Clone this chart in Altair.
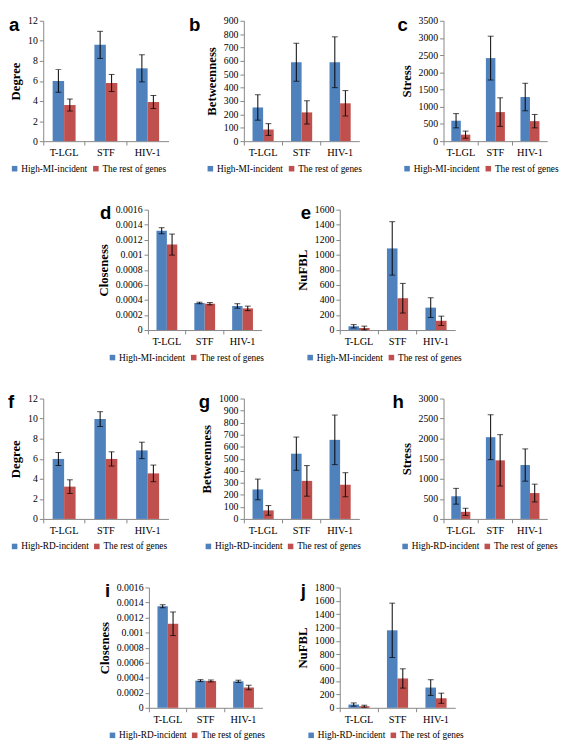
import altair as alt
import pandas as pd

CATS = ["T-LGL", "STF", "HIV-1"]
REST = "The rest of genes"
MI = "High-MI-incident"
RD = "High-RD-incident"
BLUE = "#4F81BD"
RED = "#C0504D"
GRAY = "#868686"

# ---- values (mean, error half-width) ----
a_hi = [6.0, 9.6, 7.26];            a_hi_err = [1.13, 1.35, 1.35]
a_rest = [3.6, 5.8, 3.9];           a_rest_err = [0.6, 0.85, 0.65]

b_hi = [252, 590, 590];             b_hi_err = [95, 142, 190]
b_rest = [87, 215, 283];            b_rest_err = [44, 87, 95]

c_hi = [594, 2415, 1283];           c_hi_err = [207, 637, 400]
c_rest = [189, 845, 582];           c_rest_err = [104, 415, 195]

d_hi = [0.00132, 0.00036, 0.00032];     d_hi_err = [0.00004, 0.00001, 0.00003]
d_rest = [0.001136, 0.00035, 0.000288]; d_rest_err = [0.00014, 0.000015, 0.00003]

e_hi = [50, 1085, 298];             e_hi_err = [22, 355, 131]
e_rest = [27, 423, 123];            e_rest_err = [25, 197, 62]

f_hi = [5.98, 9.95, 6.83];          f_hi_err = [0.65, 0.74, 0.82]
f_rest = [3.22, 5.98, 4.54];        f_rest_err = [0.68, 0.71, 0.83]

g_hi = [245, 542, 657];             g_hi_err = [86, 138, 206]
g_rest = [71, 316, 284];            g_rest_err = [40, 127, 100]

h_hi = [565, 2037, 1343];           h_hi_err = [197, 559, 402]
h_rest = [177, 1460, 645];          h_rest_err = [89, 640, 222]

i_hi = [0.00135, 0.000361, 0.000352];   i_hi_err = [0.00002, 0.000013, 0.000015]
i_rest = [0.001117, 0.000357, 0.00027]; i_rest_err = [0.000157, 0.000013, 0.00003]

j_hi = [49, 1159, 303];             j_hi_err = [24, 406, 117]
j_rest = [24, 439, 143];            j_rest_err = [15, 144, 76]

# axis tick values
ticks_deg = [0, 2, 4, 6, 8, 10, 12]
ticks_b = [0, 100, 200, 300, 400, 500, 600, 700, 800, 900]
ticks_c = [0, 500, 1000, 1500, 2000, 2500, 3000, 3500]
ticks_clo = [0, 0.0002, 0.0004, 0.0006, 0.0008, 0.001, 0.0012, 0.0014, 0.0016]
ticks_e = [0, 200, 400, 600, 800, 1000, 1200, 1400, 1600]
ticks_g = [0, 100, 200, 300, 400, 500, 600, 700, 800, 900, 1000]
ticks_h = [0, 500, 1000, 1500, 2000, 2500, 3000]
ticks_j = [0, 200, 400, 600, 800, 1000, 1200, 1400, 1600, 1800]

H = 123


def panel(letter, ytitle, lab, hi, hie, re, ree, ticks, fmt, width, legx, letdx):
    rows = []
    for k, c in enumerate(CATS):
        rows.append(dict(cat=c, grp=lab, val=hi[k], lo=hi[k] - hie[k], up=hi[k] + hie[k]))
        rows.append(dict(cat=c, grp=REST, val=re[k], lo=re[k] - ree[k], up=re[k] + ree[k]))
    df = pd.DataFrame(rows)
    dom = [lab, REST]
    xenc = alt.X("cat:N", sort=CATS, title=None,
                 scale=alt.Scale(paddingInner=0, paddingOuter=0),
                 axis=alt.Axis(labelAngle=0, bandPosition=0, tickSize=4, labelPadding=3,
                               labelFontSize=10.5))
    xo = alt.XOffset("grp:N", sort=dom,
                     scale=alt.Scale(domain=dom, paddingOuter=0.82, paddingInner=0))
    ysc = alt.Scale(domain=[0, ticks[-1]], nice=False)
    yax = alt.Axis(values=ticks, format=fmt, tickSize=4, labelPadding=2, titlePadding=5)
    bars = alt.Chart(df).mark_bar().encode(
        x=xenc, xOffset=xo,
        y=alt.Y("val:Q", scale=ysc, axis=yax, title=ytitle),
        color=alt.Color("grp:N", title=None,
                        scale=alt.Scale(domain=dom, range=[BLUE, RED]),
                        legend=alt.Legend(orient="none", legendX=legx, legendY=H + 23,
                                          direction="horizontal", symbolType="square",
                                          symbolSize=32, symbolStrokeWidth=0,
                                          labelFont="Liberation Serif", labelFontSize=9.5,
                                          labelOffset=2, columnPadding=3, padding=0)),
    )
    rule = alt.Chart(df).mark_rule(color="black", strokeWidth=1).encode(
        x=xenc, xOffset=xo,
        y=alt.Y("lo:Q", scale=ysc, axis=yax, title=ytitle), y2="up:Q")
    cap_lo = alt.Chart(df).mark_tick(color="black", thickness=1, size=6, orient="horizontal").encode(
        x=xenc, xOffset=xo, y=alt.Y("lo:Q", scale=ysc, axis=yax, title=ytitle))
    cap_hi = alt.Chart(df).mark_tick(color="black", thickness=1, size=6, orient="horizontal").encode(
        x=xenc, xOffset=xo, y=alt.Y("up:Q", scale=ysc, axis=yax, title=ytitle))
    return alt.layer(bars, rule, cap_lo, cap_hi).properties(
        width=width, height=H,
        title=alt.TitleParams(letter, anchor="start", frame="group", dx=letdx, offset=-19,
                              font="Liberation Sans", fontSize=19, fontWeight="bold",
                              color="black"),
    )


def spacer(w):
    return alt.Chart(pd.DataFrame({"v": [0]})).mark_point(opacity=0).encode(
        x=alt.value(0), y=alt.value(0)).properties(width=w, height=H)


def res(ch):
    return ch.resolve_scale(x="independent", y="independent", color="independent",
                            xOffset="independent").resolve_legend(color="independent")


pa = panel("a", "Degree", MI, a_hi, a_hi_err, a_rest, a_rest_err, ticks_deg, "d", 128, -34, -35)
pb = panel("b", "Betweenness", MI, b_hi, b_hi_err, b_rest, b_rest_err, ticks_b, "d", 118, -39, -56)
pc = panel("c", "Stress", MI, c_hi, c_hi_err, c_rest, c_rest_err, ticks_c, "d", 106, -42, -47)
pd_ = panel("d", "Closeness", MI, d_hi, d_hi_err, d_rest, d_rest_err, ticks_clo, ".4~f", 116, -41, -49)
pe = panel("e", "NuFBL", MI, e_hi, e_hi_err, e_rest, e_rest_err, ticks_e, "d", 118, -35, -40)
pf = panel("f", "Degree", RD, f_hi, f_hi_err, f_rest, f_rest_err, ticks_deg, "d", 128, -34, -36)
pg = panel("g", "Betweenness", RD, g_hi, g_hi_err, g_rest, g_rest_err, ticks_g, "d", 118, -41, -46)
ph = panel("h", "Stress", RD, h_hi, h_hi_err, h_rest, h_rest_err, ticks_h, "d", 106, -44, -52)
pi = panel("i", "Closeness", RD, i_hi, i_hi_err, i_rest, i_rest_err, ticks_clo, ".4~f", 116, -42, -45)
pj = panel("j", "NuFBL", RD, j_hi, j_hi_err, j_rest, j_rest_err, ticks_j, "d", 118, -34, -40)

row1 = res(alt.hconcat(pa, spacer(77), pb, spacer(86), pc, spacing=0, bounds="flush"))
row2 = res(alt.hconcat(spacer(107), pd_, spacer(80), pe, spacing=0, bounds="flush"))
row3 = res(alt.hconcat(pf, spacer(77), pg, spacer(86), ph, spacing=0, bounds="flush"))
row4 = res(alt.hconcat(spacer(108), pi, spacer(79), pj, spacing=0, bounds="flush"))

chart = res(alt.vconcat(row1, row2, row3, row4, spacing=32,
                        padding={"left": 0, "top": 0, "right": 0, "bottom": 0}))

chart = chart.configure_view(strokeWidth=0).configure_axis(
    grid=False, domainColor=GRAY, tickColor=GRAY, labelColor="black",
    labelFont="Liberation Serif", labelFontSize=10,
    titleFont="Liberation Serif", titleFontSize=13, titleFontWeight="bold",
    titleColor="black",
)

chart.save("out.html", embed_options={"renderer": "svg", "actions": False})
